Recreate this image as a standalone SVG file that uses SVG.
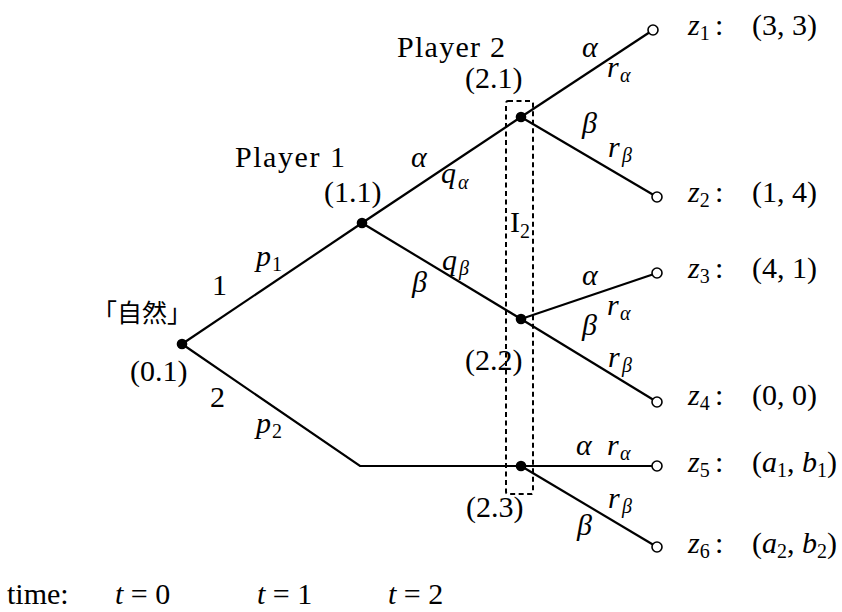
<svg xmlns="http://www.w3.org/2000/svg" width="842" height="612" viewBox="0 0 842 612">
<style>
  text { font-family: 'Liberation Serif', 'Tinos', 'Times New Roman', 'DejaVu Serif', serif; font-size: 30px; fill: #000; }
  .it { font-style: italic; }
  .sub { font-size: 20px; }
  .cjk { font-family: 'Noto Sans CJK JP', 'Noto Sans CJK SC', sans-serif; font-size: 25px; }
  .edge { stroke: #000; stroke-width: 2.2; fill: none; }
  .dec { fill: #000; }
  .term { fill: #fff; stroke: #000; stroke-width: 1.6; }
  .info { fill: none; stroke: #000; stroke-width: 2; stroke-dasharray: 5 3.5; }
</style>
<rect width="842" height="612" fill="#fff"/>
<g id="connectors">
  <line class="edge" x1="182" y1="344" x2="362" y2="223"/>
  <polyline class="edge" points="182,344 360,466 653,466"/>
  <line class="edge" x1="362" y1="223" x2="521" y2="117"/>
  <line class="edge" x1="362" y1="223" x2="521" y2="319"/>
  <line class="edge" x1="521" y1="117" x2="653" y2="30"/>
  <line class="edge" x1="521" y1="117" x2="657" y2="197"/>
  <line class="edge" x1="521" y1="319" x2="657" y2="273"/>
  <line class="edge" x1="521" y1="319" x2="657" y2="402"/>
  <line class="edge" x1="521" y1="466" x2="657" y2="547"/>
</g>
<g id="infoset">
  <rect class="info" x="506" y="101" width="27" height="393" rx="2"/>
  <text x="510" y="232">I<tspan class="sub" dy="6">2</tspan></text>
</g>
<g id="n01">
  <circle class="dec" cx="182" cy="344" r="5.3"/>
  <text class="cjk" x="92" y="322">「自然」</text>
  <text x="130" y="381">(0.1)</text>
</g>
<g id="n11">
  <circle class="dec" cx="362" cy="223" r="5.3"/>
  <text x="235" y="167" textLength="110">Player 1</text>
  <text x="324" y="202">(1.1)</text>
</g>
<g id="n21">
  <circle class="dec" cx="521" cy="117" r="5.3"/>
  <text x="397" y="57" textLength="108">Player 2</text>
  <text x="465" y="88">(2.1)</text>
</g>
<g id="n22">
  <circle class="dec" cx="521" cy="319" r="5.3"/>
  <text x="465" y="370">(2.2)</text>
</g>
<g id="n23">
  <circle class="dec" cx="521" cy="466" r="5.3"/>
  <text x="466" y="517">(2.3)</text>
</g>
<g id="z1">
  <circle class="term" cx="653" cy="30" r="5"/>
  <text x="688" y="35"><tspan class="it">z</tspan><tspan class="sub" dy="5">1</tspan></text>
  <text x="715" y="35">:</text>
  <text x="752" y="35">(3, 3)</text>
</g>
<g id="z2">
  <circle class="term" cx="657" cy="197" r="5"/>
  <text x="688" y="202"><tspan class="it">z</tspan><tspan class="sub" dy="5">2</tspan></text>
  <text x="715" y="202">:</text>
  <text x="752" y="202">(1, 4)</text>
</g>
<g id="z3">
  <circle class="term" cx="657" cy="273" r="5"/>
  <text x="688" y="278"><tspan class="it">z</tspan><tspan class="sub" dy="5">3</tspan></text>
  <text x="715" y="278">:</text>
  <text x="752" y="278">(4, 1)</text>
</g>
<g id="z4">
  <circle class="term" cx="657" cy="402" r="5"/>
  <text x="688" y="405"><tspan class="it">z</tspan><tspan class="sub" dy="5">4</tspan></text>
  <text x="715" y="405">:</text>
  <text x="752" y="405">(0, 0)</text>
</g>
<g id="z5">
  <circle class="term" cx="657" cy="466" r="5"/>
  <text x="688" y="472"><tspan class="it">z</tspan><tspan class="sub" dy="5">5</tspan></text>
  <text x="715" y="472">:</text>
  <text x="752" y="472">(<tspan class="it">a</tspan><tspan class="sub" dy="5">1</tspan><tspan dy="-5">, </tspan><tspan class="it">b</tspan><tspan class="sub" dy="5">1</tspan><tspan dy="-5">)</tspan></text>
</g>
<g id="z6">
  <circle class="term" cx="657" cy="547" r="5"/>
  <text x="688" y="553"><tspan class="it">z</tspan><tspan class="sub" dy="5">6</tspan></text>
  <text x="715" y="553">:</text>
  <text x="752" y="553">(<tspan class="it">a</tspan><tspan class="sub" dy="5">2</tspan><tspan dy="-5">, </tspan><tspan class="it">b</tspan><tspan class="sub" dy="5">2</tspan><tspan dy="-5">)</tspan></text>
</g>
<g id="edge-labels">
  <text x="212" y="295">1</text>
  <text class="it" x="256" y="266">p</text><text class="sub" x="272" y="271">1</text>
  <text x="210" y="407">2</text>
  <text class="it" x="256" y="433">p</text><text class="sub" x="272" y="438">2</text>
  <text class="it" x="411" y="167">α</text>
  <text class="it" x="441" y="183">q</text><text class="sub it" x="458" y="189">α</text>
  <text class="it" x="412" y="292">β</text>
  <text class="it" x="442" y="270">q</text><text class="sub it" x="459" y="275">β</text>
  <text class="it" x="582" y="57">α</text>
  <text class="it" x="607" y="77">r</text><text class="sub it" x="620" y="82">α</text>
  <text class="it" x="582" y="133">β</text>
  <text class="it" x="608" y="157">r</text><text class="sub it" x="622" y="162">β</text>
  <text class="it" x="582" y="285">α</text>
  <text class="it" x="607" y="315">r</text><text class="sub it" x="620" y="320">α</text>
  <text class="it" x="582" y="335">β</text>
  <text class="it" x="608" y="367">r</text><text class="sub it" x="622" y="372">β</text>
  <text class="it" x="576" y="455">α</text>
  <text class="it" x="607" y="455">r</text><text class="sub it" x="620" y="460">α</text>
  <text class="it" x="608" y="508">r</text><text class="sub it" x="622" y="513">β</text>
  <text class="it" x="577" y="535">β</text>
</g>
<g id="time-axis">
  <text x="7" y="604">time:</text>
  <text x="115" y="604"><tspan class="it">t</tspan> = 0</text>
  <text x="257" y="604"><tspan class="it">t</tspan> = 1</text>
  <text x="388" y="604"><tspan class="it">t</tspan> = 2</text>
</g>
</svg>
